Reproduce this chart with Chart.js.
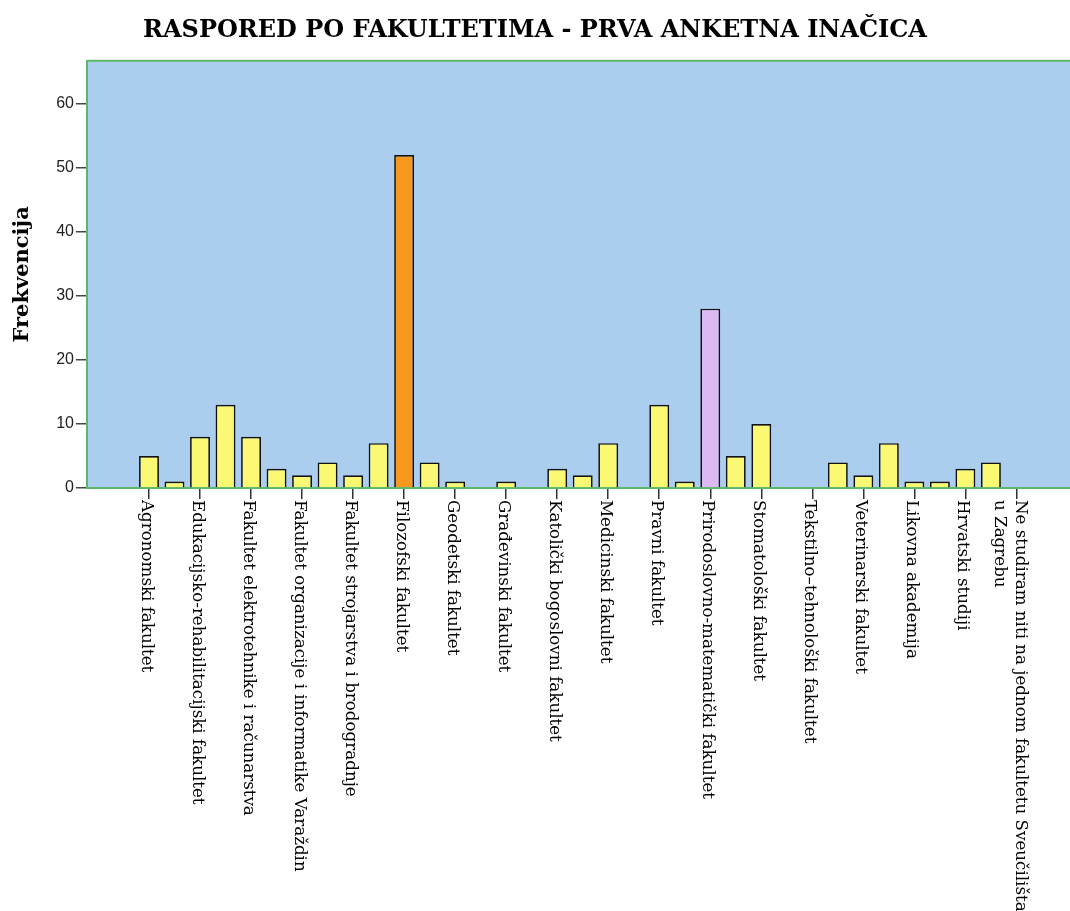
<!DOCTYPE html>
<html>
<head>
<meta charset="utf-8">
<script src="https://cdn.jsdelivr.net/npm/chart.js@4.4.0/dist/chart.umd.min.js"></script>
<style>
	html, body { margin: 0; padding: 0; background: #fff; }
	#wrap { width: 1070px; height: 911px; }
</style>
</head>
<body>
<div id="wrap"><canvas id="myChart" width="1070" height="911"></canvas></div>
<script>
// Nazivi fakulteta (samo svaki drugi naziv je ispisan na osi)
const categories = [
	'Agronomski fakultet', '',
	'Edukacijsko-rehabilitacijski fakultet', '',
	'Fakultet elektrotehnike i računarstva', '',
	'Fakultet organizacije i informatike Varaždin', '',
	'Fakultet strojarstva i brodogradnje', '',
	'Filozofski fakultet', '',
	'Geodetski fakultet', '',
	'Građevinski fakultet', '',
	'Katolički bogoslovni fakultet', '',
	'Medicinski fakultet', '',
	'Pravni fakultet', '',
	'Prirodoslovno-matematički fakultet', '',
	'Stomatološki fakultet', '',
	'Tekstilno–tehnološki fakultet', '',
	'Veterinarski fakultet', '',
	'Likovna akademija', '',
	'Hrvatski studiji', '',
	['Ne studiram niti na jednom fakultetu Sveučilišta', 'u Zagrebu']
];

// Frekvencije
const frequencies = [5, 1, 8, 13, 8, 3, 2, 4, 2, 7, 52, 4, 1, 0, 1, 0, 3, 2, 7, 0, 13, 1, 28, 5, 10, 0, 0, 4, 2, 7, 1, 1, 3, 4, 0];

const yTicks = [0, 10, 20, 30, 40, 50, 60];

const barYellow = '#fbf874';
const barColors = { 10: '#f7981f', 22: '#ddb9f1' }; // istaknuti stupci

const serif = '"DejaVu Serif", "Liberation Serif", serif';

// Pozadina i gornji rub područja grafa
const plotBackground = {
	id: 'plotBackground',
	beforeDraw(chart) {
		const { ctx, chartArea } = chart;
		ctx.save();
		ctx.fillStyle = '#acceee';
		ctx.fillRect(chartArea.left, chartArea.top, chartArea.right - chartArea.left, chartArea.bottom - chartArea.top);
		ctx.strokeStyle = '#5cb867';
		ctx.lineWidth = 2;
		ctx.beginPath();
		ctx.moveTo(chartArea.left, chartArea.top);
		ctx.lineTo(chartArea.right, chartArea.top);
		ctx.stroke();
		ctx.restore();
	}
};

// Okomiti nazivi ispod osi x (čitaju se odozgo prema dolje)
const verticalLabels = {
	id: 'verticalLabels',
	afterDraw(chart) {
		const { ctx } = chart;
		const x = chart.scales.x;
		const top = chart.chartArea.bottom + 12;
		ctx.save();
		ctx.fillStyle = '#000';
		ctx.font = '16.7px ' + serif;
		ctx.textAlign = 'left';
		ctx.textBaseline = 'middle';
		categories.forEach((label, i) => {
			if (!label) return;
			const lines = Array.isArray(label) ? label : [label];
			const px = x.getPixelForValue(i);
			ctx.save();
			ctx.translate(lines.length > 1 ? px + 4 : px - 3, top);
			ctx.rotate(Math.PI / 2);
			lines.forEach((line, j) => ctx.fillText(line, 0, j * 21));
			ctx.restore();
		});
		ctx.restore();
	}
};

var ctx = document.getElementById('myChart').getContext('2d');
new Chart(ctx, {
	type: 'bar',
	data: {
		datasets: [{
			label: 'Frekvencija',
			data: frequencies.map((v, i) => ({ x: i, y: v })),
			backgroundColor: c => barColors[c.dataIndex] || barYellow,
			borderColor: '#111',
			borderWidth: 1.7,
			borderSkipped: 'bottom',
			barPercentage: 0.78,
			categoryPercentage: 1.0,
		}]
	},
	options: {
		responsive: false,
		animation: false,
		layout: { padding: { left: 0, right: 0, top: 0, bottom: 0 } },
		plugins: {
			legend: { display: false },
			tooltip: { enabled: false },
			title: {
				display: true,
				text: 'RASPORED PO FAKULTETIMA - PRVA ANKETNA INAČICA',
				color: '#000',
				font: { family: serif, size: 24, weight: 'bold' },
				padding: { top: 16, bottom: 16 },
			},
		},
		scales: {
			x: {
				type: 'linear',
				min: -2.43,
				max: 36.1,
				offset: false,
				afterBuildTicks: scale => {
					scale.ticks = categories.map((c, i) => ({ value: i })).filter((t, i) => categories[i]);
				},
				afterFit: scale => { scale.height = 423; },
				ticks: { display: false },
				grid: {
					offset: false,
					drawOnChartArea: false,
					drawTicks: true,
					tickLength: 11,
					color: '#333',
					lineWidth: 1.5,
				},
				border: { color: '#5cb867', width: 2 },
			},
			y: {
				min: 0,
				max: 66.7,
				afterBuildTicks: scale => {
					scale.ticks = yTicks.map(v => ({ value: v }));
				},
				afterFit: scale => { scale.width = 87; },
				ticks: {
					color: '#222',
					font: { family: '"Liberation Sans", Arial, sans-serif', size: 16 },
					padding: 2,
				},
				grid: {
					offset: false,
					drawOnChartArea: false,
					drawTicks: true,
					tickLength: 11,
					color: '#444',
					lineWidth: 1.5,
				},
				border: { color: '#5cb867', width: 2 },
				title: {
					display: true,
					text: 'Frekvencija',
					color: '#000',
					font: { family: serif, size: 21, weight: 'bold' },
					padding: { top: 10, bottom: 4 },
				},
			},
		},
	},
	plugins: [plotBackground, verticalLabels],
});
</script>
</body>
</html>
